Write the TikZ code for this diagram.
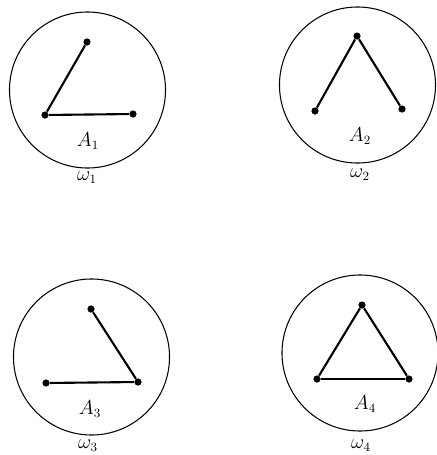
\documentclass[tikz,border=0pt]{standalone}
\usepackage{tikz}
\tikzset{
  region/.style={
    circle,
    draw=black,
    line width=0.75pt,
    minimum size=3.9cm,
    inner sep=0pt
  },
  vertex/.style={
    circle,
    fill=black,
    inner sep=0pt,
    minimum size=1.8mm
  },
  edge/.style={
    draw=black,
    line width=1.5pt
  },
  setlabel/.style={
    font=\fontsize{13.5}{16}\selectfont,
    inner sep=1pt
  }
}

\begin{document}
\begin{tikzpicture}[x=0.025cm, y=-0.025cm]

\useasboundingbox (0,0) rectangle (436,455);

% Region 1: path on three vertices.
\node[region] (w1) at (87.5,90) {};
\node[vertex] (u1) at (87,42) {};
\node[vertex] (v1) at (45,115) {};
\node[vertex] (x1) at (133,114) {};
\node[setlabel] (A1) at (88,141) {$A_1$};
\node[setlabel] (o1) at (87,178) {$\omega_1$};

% Region 2: peak.
\node[region] (w2) at (357.5,85) {};
\node[vertex] (u2) at (357,36) {};
\node[vertex] (v2) at (315,111) {};
\node[vertex] (x2) at (402,109) {};
\node[setlabel] (A2) at (360,136) {$A_2$};
\node[setlabel] (o2) at (360,175) {$\omega_2$};

% Region 3: path turned the other way.
\node[region] (w3) at (91.5,357) {};
\node[vertex] (u3) at (91,309) {};
\node[vertex] (v3) at (46,383) {};
\node[vertex] (x3) at (138,382) {};
\node[setlabel] (A3) at (90,409) {$A_3$};
\node[setlabel] (o3) at (88,446) {$\omega_3$};

% Region 4: triangle.
\node[region] (w4) at (360,353) {};
\node[vertex] (u4) at (362,305) {};
\node[vertex] (v4) at (317,379) {};
\node[vertex] (x4) at (409,379) {};
\node[setlabel] (A4) at (365,404) {$A_4$};
\node[setlabel] (o4) at (361,446) {$\omega_4$};

% Edges.
\draw[edge] (u1) -- (v1);
\draw[edge] (v1) -- (x1);

\draw[edge] (v2) -- (u2);
\draw[edge] (u2) -- (x2);

\draw[edge] (u3) -- (x3);
\draw[edge] (x3) -- (v3);

\draw[edge] (u4) -- (v4);
\draw[edge] (v4) -- (x4);
\draw[edge] (x4) -- (u4);

\end{tikzpicture}
\end{document}
